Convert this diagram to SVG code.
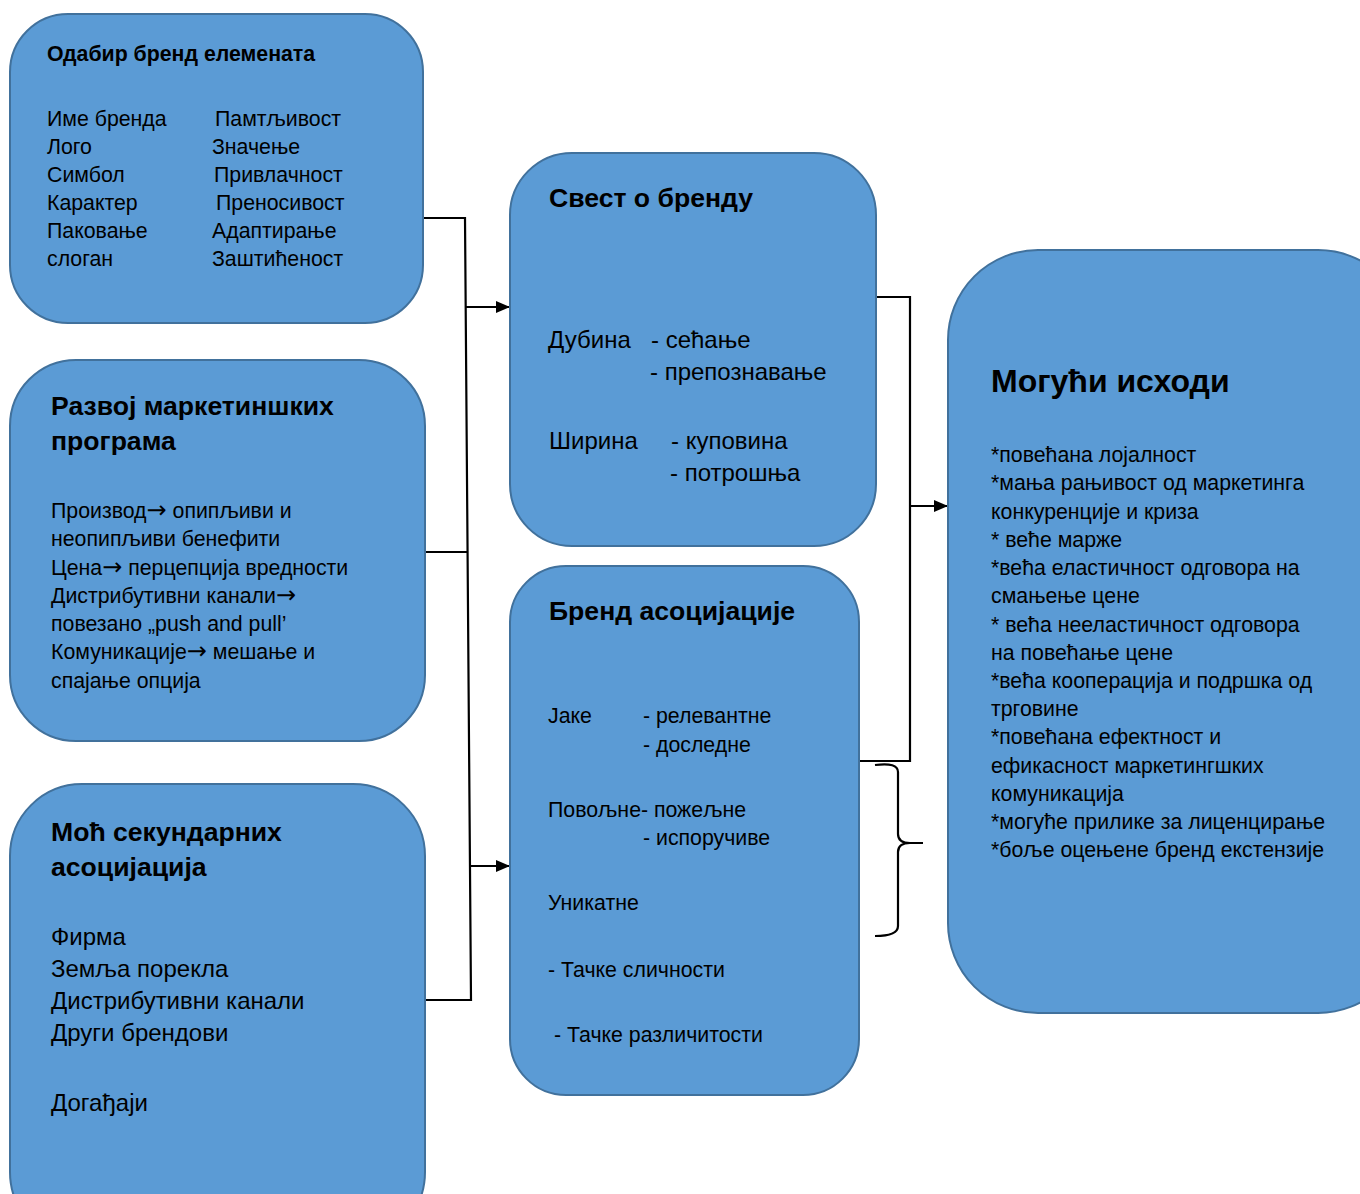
<svg xmlns="http://www.w3.org/2000/svg" width="1360" height="1194" viewBox="0 0 1360 1194">
  <style>
    .box { fill: #5B9BD5; stroke: #41719C; stroke-width: 2; }
    text { font-family: "Liberation Sans", Arial, sans-serif; fill: #000; }
    .t1 { font-size: 21.3px; font-weight: bold; }
    .t2 { font-size: 26.6px; font-weight: bold; }
    .t3 { font-size: 32px; font-weight: bold; }
    .s21 { font-size: 21.3px; }
    .s24 { font-size: 24px; }
    .arr { font-family: "DejaVu Sans", sans-serif; font-size: 24px; }
    .wire { fill: none; stroke: #000; stroke-width: 2.2; }
  </style>
  <defs>
    <marker id="arrow" viewBox="0 0 14 12" refX="14" refY="6" markerWidth="14" markerHeight="12" orient="auto" markerUnits="userSpaceOnUse">
      <path d="M0,0 L14,6 L0,12 Z" fill="#000"/>
    </marker>
  </defs>
  <rect width="1360" height="1194" fill="#fff"/>

  <g id="connectors">
    <path class="wire" d="M423,218 H465 L471,1000 H425"/>
    <path class="wire" d="M425,552 H467"/>
    <path class="wire" d="M466,307 H510" marker-end="url(#arrow)"/>
    <path class="wire" d="M470,866 H510" marker-end="url(#arrow)"/>
    <path class="wire" d="M876,297 H910 V761 H859"/>
    <path class="wire" d="M910,506 H948" marker-end="url(#arrow)"/>
    <path class="wire" d="M875,765 Q898,762 898,772 V834 Q898,843 910,843 H923 M910,843 Q898,843 898,852 V926 Q898,936 875,936"/>
  </g>

  <g id="brand-elements">
    <rect class="box" x="10" y="14" width="413" height="309" rx="58" ry="58"/>
    <text class="t1" x="47" y="61">Одабир бренд елемената</text>
    <text class="s21" x="47" y="126">Име бренда</text>
    <text class="s21" x="47" y="154">Лого</text>
    <text class="s21" x="47" y="182">Симбол</text>
    <text class="s21" x="47" y="210">Карактер</text>
    <text class="s21" x="47" y="238">Паковање</text>
    <text class="s21" x="47" y="266">слоган</text>
    <text class="s21" x="215" y="126">Памтљивост</text>
    <text class="s21" x="212" y="154">Значење</text>
    <text class="s21" x="214" y="182">Привлачност</text>
    <text class="s21" x="216" y="210">Преносивост</text>
    <text class="s21" x="212" y="238">Адаптирање</text>
    <text class="s21" x="212" y="266">Заштићеност</text>
  </g>

  <g id="marketing-programs">
    <rect class="box" x="10" y="360" width="415" height="381" rx="66" ry="66"/>
    <text class="t2" x="51" y="415">Развој маркетиншких</text>
    <text class="t2" x="51" y="450">програма</text>
    <text class="s21" x="51" y="518">Производ<tspan class="arr">→</tspan> опипљиви и</text>
    <text class="s21" x="51" y="546">неопипљиви бенефити</text>
    <text class="s21" x="51" y="575">Цена<tspan class="arr">→</tspan> перцепција вредности</text>
    <text class="s21" x="51" y="603">Дистрибутивни канали<tspan class="arr">→</tspan></text>
    <text class="s21" x="51" y="631">повезано „push and pull’</text>
    <text class="s21" x="51" y="659">Комуникације<tspan class="arr">→</tspan> мешање и</text>
    <text class="s21" x="51" y="688">спајање опција</text>
  </g>

  <g id="secondary-associations">
    <rect class="box" x="10" y="784" width="415" height="460" rx="72" ry="72"/>
    <text class="t2" x="51" y="841">Моћ секундарних</text>
    <text class="t2" x="51" y="876">асоцијација</text>
    <text class="s24" x="51" y="945">Фирма</text>
    <text class="s24" x="51" y="977">Земља порекла</text>
    <text class="s24" x="51" y="1009">Дистрибутивни канали</text>
    <text class="s24" x="51" y="1041">Други брендови</text>
    <text class="s24" x="51" y="1111">Догађаји</text>
  </g>

  <g id="brand-awareness">
    <rect class="box" x="510" y="153" width="366" height="393" rx="62" ry="62"/>
    <text class="t2" x="549" y="207">Свест о бренду</text>
    <text class="s24" x="548" y="348">Дубина</text>
    <text class="s24" x="651" y="348">- сећање</text>
    <text class="s24" x="650" y="380">- препознавање</text>
    <text class="s24" x="549" y="449">Ширина</text>
    <text class="s24" x="671" y="449">- куповина</text>
    <text class="s24" x="670" y="481">- потрошња</text>
  </g>

  <g id="brand-associations">
    <rect class="box" x="510" y="566" width="349" height="529" rx="56" ry="56"/>
    <text class="t2" x="549" y="620">Бренд асоцијације</text>
    <text class="s21" x="548" y="723">Јаке</text>
    <text class="s21" x="643" y="723">- релевантне</text>
    <text class="s21" x="643" y="752">- доследне</text>
    <text class="s21" x="548" y="817">Повољне- пожељне</text>
    <text class="s21" x="643" y="845">- испоручиве</text>
    <text class="s21" x="548" y="910">Уникатне</text>
    <text class="s21" x="548" y="977">- Тачке сличности</text>
    <text class="s21" x="554" y="1042">- Тачке различитости</text>
  </g>

  <g id="possible-outcomes">
    <rect class="box" x="948" y="250" width="460" height="763" rx="90" ry="90"/>
    <text class="t3" x="991" y="392">Могући исходи</text>
    <text class="s21" x="991" y="462">*повећана лојалност</text>
    <text class="s21" x="991" y="490">*мања рањивост од маркетинга</text>
    <text class="s21" x="991" y="519">конкуренције и криза</text>
    <text class="s21" x="991" y="547">* веће марже</text>
    <text class="s21" x="991" y="575">*већа еластичност одговора на</text>
    <text class="s21" x="991" y="603">смањење цене</text>
    <text class="s21" x="991" y="632">* већа нееластичност одговора</text>
    <text class="s21" x="991" y="660">на повећање цене</text>
    <text class="s21" x="991" y="688">*већа кооперација и подршка од</text>
    <text class="s21" x="991" y="716">трговине</text>
    <text class="s21" x="991" y="744">*повећана ефектност и</text>
    <text class="s21" x="991" y="773">ефикасност маркетингшких</text>
    <text class="s21" x="991" y="801">комуникација</text>
    <text class="s21" x="991" y="829">*могуће прилике за лиценцирање</text>
    <text class="s21" x="991" y="857">*боље оцењене бренд екстензије</text>
  </g>
</svg>
